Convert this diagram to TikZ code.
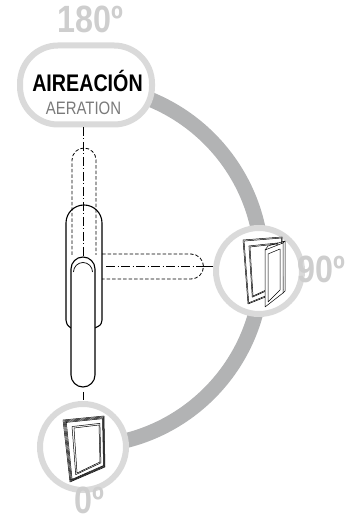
\documentclass[tikz,border=0pt]{standalone}
\usepackage{fontspec}
\newfontfamily\condfont{Liberation Sans}[FakeStretch=0.82]
\newfontfamily\degfont{Liberation Sans}[FakeStretch=0.85]
\newfontfamily\subfont{Liberation Sans}[FakeStretch=0.83]
\usetikzlibrary{calc}

\definecolor{arcgray}{RGB}{178,179,180}
\definecolor{ringgray}{RGB}{218,218,218}
\definecolor{deggray}{RGB}{206,206,206}
\definecolor{subgray}{RGB}{122,122,122}

\begin{document}
\begin{tikzpicture}[
    x=1pt, y=1pt,
    % Define styles for the different parts
    ring/.style={draw=ringgray, line width=6pt, fill=white},
    degtext/.style={font=\degfont\bfseries\fontsize{38}{38}\selectfont, text=deggray, inner sep=0pt},
    solidline/.style={line width=1.1pt, line join=round},
    ghostline/.style={line width=0.8pt, dash pattern=on 3.5pt off 2pt},
    axisline/.style={line width=0.6pt, dash pattern=on 9pt off 2.5pt on 1pt off 2.5pt},
    frameline/.style={line width=0.5pt, line join=round},
]
\useasboundingbox (0,0) rectangle (347,521);

% -------------------------
% Rotation arc
% -------------------------
\coordinate (pivot) at (82,255);
\draw[arcgray, line width=15pt] ($(pivot)+(0,180)$) arc[start angle=90, end angle=-90, radius=180];

% -------------------------
% Position markers
% -------------------------
\node (aeration) [ring, rounded corners=38pt, minimum width=132pt, minimum height=79pt] at (86,436) {};
\node (open) [ring, circle, minimum size=86pt, inner sep=0pt] at (259,250) {};
\node (closed) [ring, circle, minimum size=86pt, inner sep=0pt] at (83,74) {};

\node (title) [anchor=base, font=\condfont\bfseries\fontsize{24}{24}\selectfont, inner sep=0pt] at (87.5,429) {AIREACIÓN};
\node (subtitle) [anchor=base, font=\subfont\fontsize{18}{18}\selectfont, text=subgray, inner sep=0pt] at (83.5,406) {AERATION};

\node (deg180) [degtext, anchor=base] at (90.5,488) {180º};
\node (deg90) [degtext, anchor=base west] at (297,238) {90º};
\node (deg0) [degtext, anchor=base west] at (74,8) {0º};

% -------------------------
% Handle: ghost positions
% -------------------------
\draw[axisline] (83,394) -- (83,259);
\draw[ghostline] (72,266) -- (72,361) arc[start angle=180, end angle=0, radius=12] -- (96,266);
\draw[ghostline] (102,267) -- (191,267) arc[start angle=90, end angle=-90, radius=12.5] -- (102,242);
\draw[axisline] (106,254.5) -- (205,254.5);
\draw[line width=0.6pt] (205,254.5) -- (213,254.5);

% -------------------------
% Handle: rose and lever
% -------------------------
\draw[solidline] (71,193) .. controls (67,196) .. (66,201) -- (66,298)
    arc[start angle=180, end angle=0, radius=18] -- (102,201) .. controls (101,196) .. (95,193);
\draw[solidline, fill=white] (71,146) -- (71,252) arc[start angle=180, end angle=0, radius=12]
    -- (95,146) arc[start angle=0, end angle=-180, radius=12];
\draw[line width=0.7pt] (73.5,249) arc[start angle=180, end angle=0, radius=9.5];
\draw[line width=0.8pt] (83,129) -- (83,121);

% -------------------------
% Window closed (0)
% -------------------------
\coordinate (ctl) at (63,101);  \coordinate (ctr) at (104,105);
\coordinate (cbr) at (105,54);  \coordinate (cbl) at (70,39);
\coordinate (citl) at (74,93);  \coordinate (citr) at (99,96);
\coordinate (cibr) at (100,59); \coordinate (cibl) at (77,48);
\foreach \t in {0,0.1,0.2,0.3,0.82,1}{
    \draw[frameline] ($(ctl)!\t!(citl)$) -- ($(ctr)!\t!(citr)$) -- ($(cbr)!\t!(cibr)$) -- ($(cbl)!\t!(cibl)$) -- cycle;
}

% -------------------------
% Window open (90)
% -------------------------
\coordinate (otl) at (243,281); \coordinate (otr) at (282,284);
\coordinate (obr) at (283,231); \coordinate (obl) at (248,217);
\coordinate (oitl) at (250,274); \coordinate (oitr) at (277,277);
\coordinate (oibr) at (277,236); \coordinate (oibl) at (253,225);
\foreach \t in {0,0.15,0.85,1}{
    \draw[frameline] ($(otl)!\t!(oitl)$) -- ($(otr)!\t!(oitr)$) -- ($(obr)!\t!(oibr)$) -- ($(obl)!\t!(oibl)$) -- cycle;
}
% sash swung open
\draw[frameline, fill=white] (265,271) -- (283,278) -- (283,228) -- (265,214) -- cycle;
\draw[frameline] (268,267) -- (280,272) -- (280,231) -- (268,219) -- cycle;
\draw[frameline] (265,271) -- (268,275) -- (285,280) -- (283,278);
\draw[frameline] (285,280) -- (285,230) -- (283,228);

\end{tikzpicture}
\end{document}
